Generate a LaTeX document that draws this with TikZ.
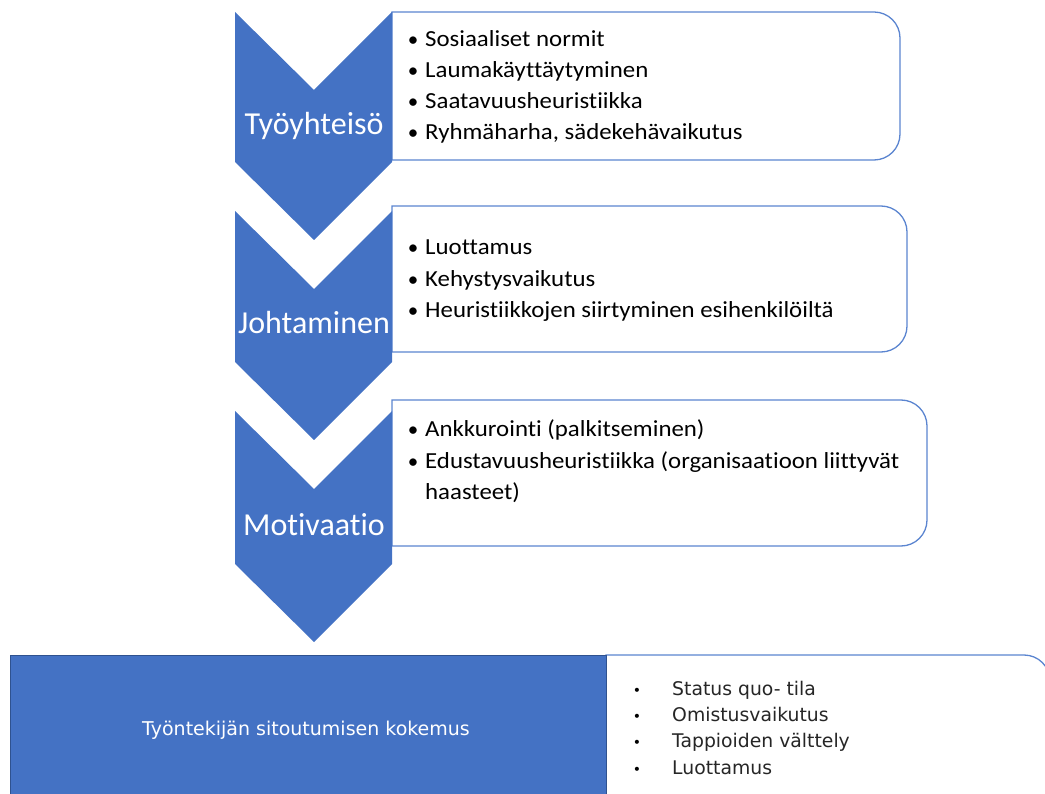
\documentclass[tikz,border=0pt]{standalone}
\usepackage{fontspec}
\setmainfont[Ligatures=NoCommon]{Carlito}
\newfontfamily\itemfont[Ligatures=NoCommon, FakeStretch=1.08]{Carlito}
\newfontfamily\listfont{DejaVu Sans}
\definecolor{cblue}{HTML}{4472C4}
\definecolor{cdark}{HTML}{2F528F}
\definecolor{cline}{HTML}{5B85D0}
\begin{document}
\begin{tikzpicture}[x=1pt,y=-1pt,
  chev/.style={fill=cblue},
  infobox/.style={draw=cline, line width=1.3pt, fill=white},
  lbl/.style={text=white, font=\fontsize{32}{34}\selectfont, inner sep=0, anchor=base},
  itm/.style={anchor=base west, font=\itemfont\fontsize{23}{26}\selectfont, inner sep=0},
  bul/.style={anchor=base, font=\fontsize{21}{24}\selectfont, inner sep=0},
  litm/.style={anchor=base west, font=\listfont\fontsize{18.8}{22}\selectfont, inner sep=0, text=black!85},
  lbul/.style={anchor=base, font=\listfont\fontsize{14}{22}\selectfont, inner sep=0}
]
\useasboundingbox (0,0) rectangle (1045,794);

% boxes
\draw[infobox] (392,12) [rounded corners=26] -- (900,12) -- (900,160) [sharp corners] -- (392,160) -- cycle;
\draw[infobox] (392,206) [rounded corners=26] -- (907,206) -- (907,352) [sharp corners] -- (392,352) -- cycle;
\draw[infobox] (392,400) [rounded corners=26] -- (927,400) -- (927,546) [sharp corners] -- (392,546) -- cycle;

% chevrons
\fill[chev] (235,12) -- (314,90) -- (392,12) -- (392,162) -- (314,240) -- (235,162) -- cycle;
\fill[chev] (235,211) -- (314,289) -- (392,211) -- (392,362) -- (314,440) -- (235,362) -- cycle;
\fill[chev] (235,411) -- (314,489) -- (392,411) -- (392,564) -- (314,642) -- (235,564) -- cycle;

\node[lbl] (c1) at (314,135) {Työyhteisö};
\node[lbl] (c2) at (314,334) {Johtaminen};
\node[lbl] (c3) at (314,535) {Motivaatio};

% box 1 items
\node[bul] (b1a) at (413,47) {•};  \node[itm] (t1a) at (425,47) {Sosiaaliset normit};
\node[bul] (b1b) at (413,78) {•};  \node[itm] (t1b) at (425,78) {Laumakäyttäytyminen};
\node[bul] (b1c) at (413,109) {•}; \node[itm] (t1c) at (425,109) {Saatavuusheuristiikka};
\node[bul] (b1d) at (413,140) {•}; \node[itm] (t1d) at (425,140) {Ryhmäharha, sädekehävaikutus};

% box 2 items
\node[bul] (b2a) at (413,255) {•}; \node[itm] (t2a) at (425,255) {Luottamus};
\node[bul] (b2b) at (413,287) {•}; \node[itm] (t2b) at (425,287) {Kehystysvaikutus};
\node[bul] (b2c) at (413,318) {•}; \node[itm] (t2c) at (425,318) {Heuristiikkojen siirtyminen esihenkilöiltä};

% box 3 items
\node[bul] (b3a) at (413,437) {•}; \node[itm] (t3a) at (425,437) {Ankkurointi (palkitseminen)};
\node[bul] (b3b) at (413,468) {•}; \node[itm] (t3b) at (425,468) {Edustavuusheuristiikka (organisaatioon liittyvät};
\node[itm] (t3c) at (425,499) {haasteet)};

% bottom
\draw[infobox] (606,655) [rounded corners=26] -- (1050,655) -- (1050,830) [sharp corners] -- (606,830) -- cycle;
\node[draw=cdark, line width=1pt, fill=cblue, minimum width=596pt, minimum height=150pt, anchor=north west, inner sep=0] (res) at (10,655) {};
\node[text=white, font=\listfont\fontsize{19}{22}\selectfont, inner sep=0, anchor=base] (restext) at (306,735) {Työntekijän sitoutumisen kokemus};

\node[lbul] (b4a) at (637,695) {•}; \node[litm] (t4a) at (672,695) {Status quo- tila};
\node[lbul] (b4b) at (637,721) {•}; \node[litm] (t4b) at (672,721) {Omistusvaikutus};
\node[lbul] (b4c) at (637,747) {•}; \node[litm] (t4c) at (672,747) {Tappioiden välttely};
\node[lbul] (b4d) at (637,774) {•}; \node[litm] (t4d) at (672,774) {Luottamus};
\end{tikzpicture}
\end{document}
